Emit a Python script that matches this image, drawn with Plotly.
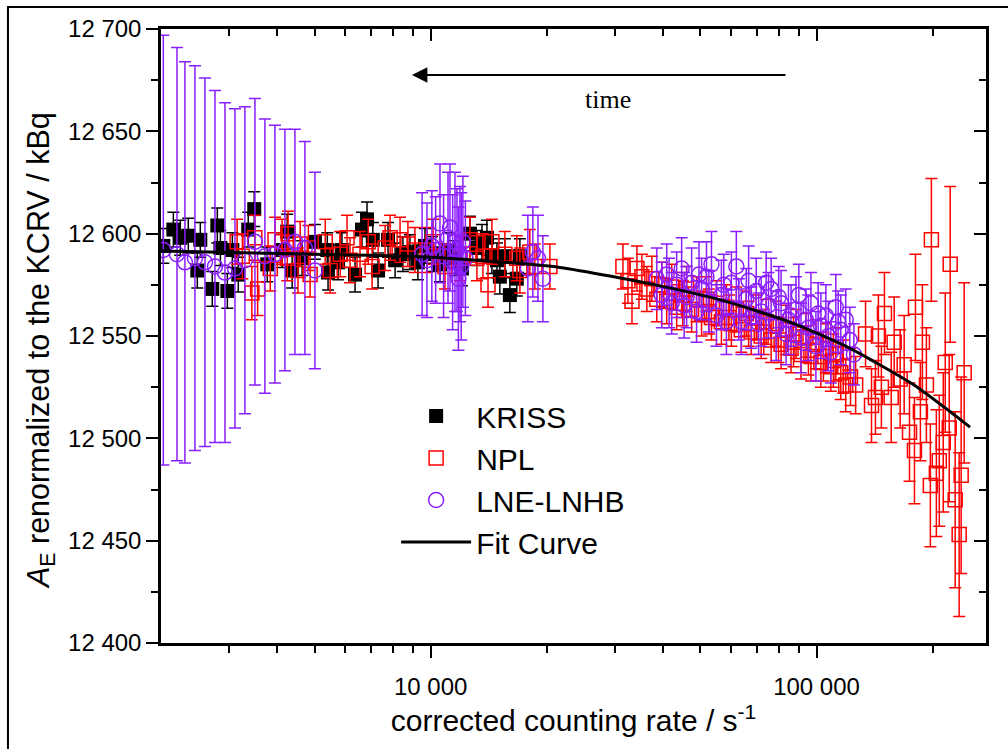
import plotly.graph_objects as go

# ---------------- data ----------------
kriss_rate = [2028, 2153, 2244, 2354, 2484, 2529, 2716, 2799, 2851, 2972, 3062, 3172,
              3366, 3489, 3771, 4123, 4248, 4375, 4643, 5012, 5395, 5420, 5754, 5888,
              6368, 6637, 6839, 7080, 7305, 7753, 8087, 8474, 8837, 9266, 9666, 10070,
              10570, 11090, 11560, 12050, 12640, 13180, 13580, 13990, 14410, 14850,
              15110, 15570, 16040, 16720, 17030]
kriss_val = [12594, 12602, 12598, 12599, 12582, 12597, 12573, 12604, 12593, 12572, 12592, 12580,
             12602, 12612, 12585, 12592, 12601, 12582, 12588, 12596, 12592, 12581, 12586, 12592,
             12580, 12602, 12607, 12597, 12582, 12597, 12587, 12590, 12591, 12586, 12594, 12590,
             12585, 12592, 12588, 12583, 12600, 12593, 12596, 12598, 12589, 12587,
             12579, 12589, 12570, 12578, 12589]
kriss_err = [8.5] * len(kriss_rate)

npl_rate = [3150, 3250, 3440, 3500, 3560, 3840, 3950, 4120, 4250, 4270, 4530, 4590, 4820, 4870,
            5330, 5490, 5830, 6070, 6180, 6560, 6890, 7050, 7620, 7850, 8330, 8730, 9100,
            9780, 10140, 10890, 11900, 12640, 13180, 13660, 14080, 14410, 15570, 16720,
            17030, 18070, 18620, 20370,
            31500, 32460, 33250, 34250, 35270, 36330, 37430, 38560, 39720, 40910, 42140,
            43410, 44720, 45000, 46070, 47460, 48880, 50360, 51870, 52600, 53430, 55040,
            56700, 58410, 59300, 60170, 61980, 63850, 65770, 66700, 67750, 69790, 71890,
            73000, 74060, 76290, 78590, 79700, 80950, 83390, 85900, 87200, 88490, 91160,
            93900, 95300, 96730, 99650, 102650, 104200, 105750, 108930, 110600, 112210,
            115590, 117300, 119060, 122500, 126320, 134030, 138860, 142170, 144700, 147300,
            150000, 156200, 159000, 164760, 168750, 174200, 179450, 180510, 185920,
            188140, 192690, 197300, 198510, 204500, 208090, 213090, 215650, 220800,
            222100, 228800, 234300, 237100, 241400]
npl_val = [12596, 12589, 12571, 12598, 12573, 12583, 12597, 12596, 12588, 12600, 12582, 12595,
           12593, 12580, 12596, 12582, 12590, 12598, 12587, 12590, 12596, 12584, 12593, 12598,
           12597, 12595, 12592, 12592, 12596, 12584, 12588, 12597, 12588, 12589, 12575,
           12596, 12590, 12588, 12582, 12591, 12584, 12584,
           12584, 12577, 12567, 12583, 12579, 12573, 12578, 12568, 12575, 12567, 12574,
           12564, 12570, 12566, 12573, 12563, 12568, 12561, 12568, 12562, 12559, 12566,
           12557, 12564, 12559, 12556, 12563, 12553, 12561, 12556, 12552, 12559, 12550,
           12552, 12557, 12548, 12556, 12548, 12546, 12553, 12544, 12547, 12551, 12541,
           12549, 12543, 12540, 12546, 12537, 12540, 12544, 12535, 12538, 12541,
           12532, 12535, 12526, 12530, 12526, 12551, 12516, 12520, 12550, 12525,
           12561, 12520, 12547, 12529, 12536, 12503, 12494, 12564, 12513,
           12547, 12526, 12477, 12597, 12483, 12489, 12498, 12537, 12505,
           12585, 12470, 12453, 12482, 12532]
npl_err = [11, 11, 13, 11, 13, 11, 11, 11, 11, 11, 11, 11, 11, 11,
           11, 11, 11, 11, 11, 11, 11, 11, 11, 11, 11, 11, 11,
           11, 11, 11, 11, 11, 11, 11, 11, 11, 11, 11, 11, 11, 11, 11,
           11, 11, 11, 11, 11, 11, 11, 11, 11, 11, 11,
           11, 11, 11, 11, 11, 11, 11, 11, 11, 11, 11,
           11, 11, 11, 11, 11, 11, 11, 11, 11, 11, 11,
           11, 11, 11, 11, 11, 12, 12, 12, 12, 12, 12,
           12, 12, 12, 12, 12, 12, 12, 12, 13, 13,
           13, 13, 13, 14, 14, 16, 18, 18, 20, 20, 20,
           22, 22, 24, 24, 24, 26, 26, 24, 28,
           28, 30, 30, 31, 32, 34, 34, 36, 38,
           43, 40, 48, 44, 46]

lne_rate = [2028, 2200, 2307, 2449, 2600, 2760, 2930, 3110, 3300, 3504, 3718, 3947, 4190,
            4448, 4721, 5012,
            9500, 9780, 10070, 10300, 10570, 10800, 11090, 11220, 11400, 11560, 11700,
            11800, 11910, 12000, 12120, 12300, 17860, 18400, 18970, 19540,
            38560, 39720, 40910, 41500, 42140, 43410, 44720, 45400, 46070, 47460, 48880,
            49600, 50360, 51870, 52600, 53430, 55040, 56700, 57500, 58410, 60170, 61980,
            62900, 63850, 65770, 66700, 67750, 69790, 70800, 71890, 74060, 75100, 76290,
            78590, 79800, 80950, 83390, 84600, 85900, 88490, 90000, 91160, 93900, 95300,
            96730, 99650, 101000, 102650, 105750, 107300, 108930, 112210, 113800, 115590,
            119060, 122000, 125000]
lne_val = [12592, 12590, 12586, 12588, 12586, 12584, 12581, 12583, 12587, 12596, 12589, 12590,
           12592, 12596, 12593, 12582,
           12590, 12587, 12594, 12592, 12605, 12589, 12598, 12603, 12586, 12596, 12592,
           12578, 12590, 12584, 12596, 12588, 12583, 12591, 12588, 12578,
           12578, 12570, 12580, 12571, 12566, 12575, 12583, 12565, 12569, 12576, 12562,
           12580, 12573, 12579, 12567, 12585, 12560, 12570, 12575, 12557, 12576, 12584,
           12563, 12557, 12568, 12577, 12559, 12572, 12556, 12562, 12576, 12565, 12573,
           12555, 12569, 12566, 12551, 12558, 12560, 12563, 12570, 12549, 12558, 12554,
           12566, 12545, 12561, 12555, 12560, 12550, 12542, 12564, 12557, 12553,
           12558, 12548, 12541]
lne_err = [105, 101, 98, 94, 90, 86, 83, 78, 75, 70, 67, 63, 59, 55, 52, 48,
           30, 28, 27, 26, 29, 30, 32, 31, 33, 34, 30, 35, 33, 36, 32, 28, 26, 22, 21, 21,
           15, 16, 15, 17, 15, 16, 15, 16, 15, 17, 15,
           16, 15, 17, 15, 16, 15, 17, 15, 16, 15, 17,
           15, 16, 15, 17, 15, 16, 15, 17, 15, 16, 15,
           17, 15, 16, 15, 17, 15, 16, 15, 17, 15, 16,
           15, 17, 15, 16, 15, 17, 15, 16, 15, 17,
           15, 16, 15]

fit_rate = [2000, 5000, 10000, 21600, 39300, 58500, 86700, 119700, 177400, 250000]
fit_val = [12591.5, 12590, 12588.5, 12583.5, 12574.5, 12566.8, 12556.3, 12544.8, 12526.5, 12505.5]

x_major = [10000, 100000]
x_minor = [3000, 4000, 5000, 6000, 7000, 8000, 9000,
           20000, 30000, 40000, 50000, 60000, 70000, 80000, 90000, 200000]

# ---------------- styling ----------------
FONT = "Arial, Liberation Sans, sans-serif"
BLACK = "#000000"
RED = "#FF0000"
PURPLE = "#8B1EFF"

fig = go.Figure()

fig.add_trace(go.Scatter(
    x=kriss_rate, y=kriss_val, mode="markers", name="KRISS",
    marker=dict(symbol="square", size=14, color=BLACK, line=dict(width=0)),
    error_y=dict(type="data", array=kriss_err, visible=True, color=BLACK, thickness=1.5, width=6),
))
fig.add_trace(go.Scatter(
    x=npl_rate, y=npl_val, mode="markers", name="NPL",
    marker=dict(symbol="square-open", size=14, color=RED, line=dict(width=1.5, color=RED)),
    error_y=dict(type="data", array=npl_err, visible=True, color=RED, thickness=1.5, width=6),
))
fig.add_trace(go.Scatter(
    x=lne_rate, y=lne_val, mode="markers", name="LNE-LNHB",
    marker=dict(symbol="circle-open", size=15, color=PURPLE, line=dict(width=1.5, color=PURPLE)),
    error_y=dict(type="data", array=lne_err, visible=True, color=PURPLE, thickness=1.5, width=6),
))
fig.add_trace(go.Scatter(
    x=fit_rate, y=fit_val, mode="lines", name="Fit Curve",
    line=dict(color=BLACK, width=3, shape="spline", smoothing=0.6),
))
# empty trace to activate the mirrored (top / right) axes
fig.add_trace(go.Scatter(x=[], y=[], xaxis="x2", yaxis="y2", showlegend=False, hoverinfo="skip"))

xr = [3.30103, 5.43933]
yr = [12400, 12700]

fig.update_layout(
    width=1008, height=749,
    margin=dict(l=161, r=22, t=29, b=106),
    paper_bgcolor="white", plot_bgcolor="white",
    separators=". ",
    font=dict(family=FONT, color=BLACK, size=24),
    showlegend=True,
    legend=dict(x=0.285, y=0.412, xanchor="left", yanchor="top",
                font=dict(family=FONT, size=30, color=BLACK),
                bgcolor="rgba(0,0,0,0)", itemwidth=70, tracegroupgap=0,
                itemsizing="trace"),
    xaxis=dict(
        type="log", range=xr, tickmode="array", tickvals=x_major, tickformat=",d",
        ticks="outside", ticklen=12, tickwidth=2, tickcolor=BLACK, ticklabelstandoff=8,
        minor=dict(tickmode="array", tickvals=x_minor, ticks="outside", ticklen=7,
                   tickwidth=2, tickcolor=BLACK, showgrid=False),
        showline=True, linewidth=2.5, linecolor=BLACK, showgrid=False, zeroline=False,
        tickfont=dict(size=24, family=FONT),
        title=dict(text="corrected counting rate / s<sup>-1</sup>", font=dict(size=30, family=FONT),
                   standoff=12),
    ),
    yaxis=dict(
        range=yr, tickmode="linear", tick0=12400, dtick=50, tickformat=",d",
        ticks="outside", ticklen=12, tickwidth=2, tickcolor=BLACK,
        minor=dict(dtick=25, ticks="outside", ticklen=7, tickwidth=2, tickcolor=BLACK, showgrid=False),
        showline=True, linewidth=2.5, linecolor=BLACK, showgrid=False, zeroline=False,
        tickfont=dict(size=24, family=FONT),
    ),
    xaxis2=dict(
        type="log", range=xr, overlaying="x", side="top", anchor="y",
        tickmode="array", tickvals=x_major, showticklabels=False,
        ticks="inside", ticklen=12, tickwidth=2, tickcolor=BLACK,
        minor=dict(tickmode="array", tickvals=x_minor, ticks="inside", ticklen=7,
                   tickwidth=2, tickcolor=BLACK, showgrid=False),
        showline=True, linewidth=2.5, linecolor=BLACK, showgrid=False, zeroline=False,
    ),
    yaxis2=dict(
        range=yr, overlaying="y", side="right", anchor="x",
        tickmode="linear", tick0=12400, dtick=50, showticklabels=False,
        ticks="inside", ticklen=12, tickwidth=2, tickcolor=BLACK,
        minor=dict(dtick=25, ticks="inside", ticklen=7, tickwidth=2, tickcolor=BLACK, showgrid=False),
        showline=True, linewidth=2.5, linecolor=BLACK, showgrid=False, zeroline=False,
    ),
    annotations=[
        dict(xref="paper", yref="paper", x=-0.1467, y=0.477, textangle=-90,
             text="<i>A</i><sub>E</sub> renormalized to the KCRV / kBq", showarrow=False,
             font=dict(family=FONT, size=30.5, color=BLACK), xanchor="center", yanchor="middle"),
        dict(xref="paper", yref="paper", axref="pixel", ayref="pixel",
             x=0.3042, y=0.9251, ax=375, ay=0, text="", showarrow=True,
             arrowhead=2, arrowsize=1.4, arrowwidth=2.2, arrowcolor=BLACK),
        dict(xref="paper", yref="paper", x=0.5418, y=0.8844, text="time", showarrow=False,
             font=dict(family="Liberation Serif, Times New Roman, serif", size=26, color=BLACK),
             xanchor="center", yanchor="middle"),
    ],
    shapes=[
        dict(type="rect", xref="paper", yref="paper", x0=-0.1855, x1=1.05, y0=-0.2, y1=1.0358,
             line=dict(color=BLACK, width=2), fillcolor="rgba(0,0,0,0)", layer="below"),
    ],
)

fig.write_html("out.html")
